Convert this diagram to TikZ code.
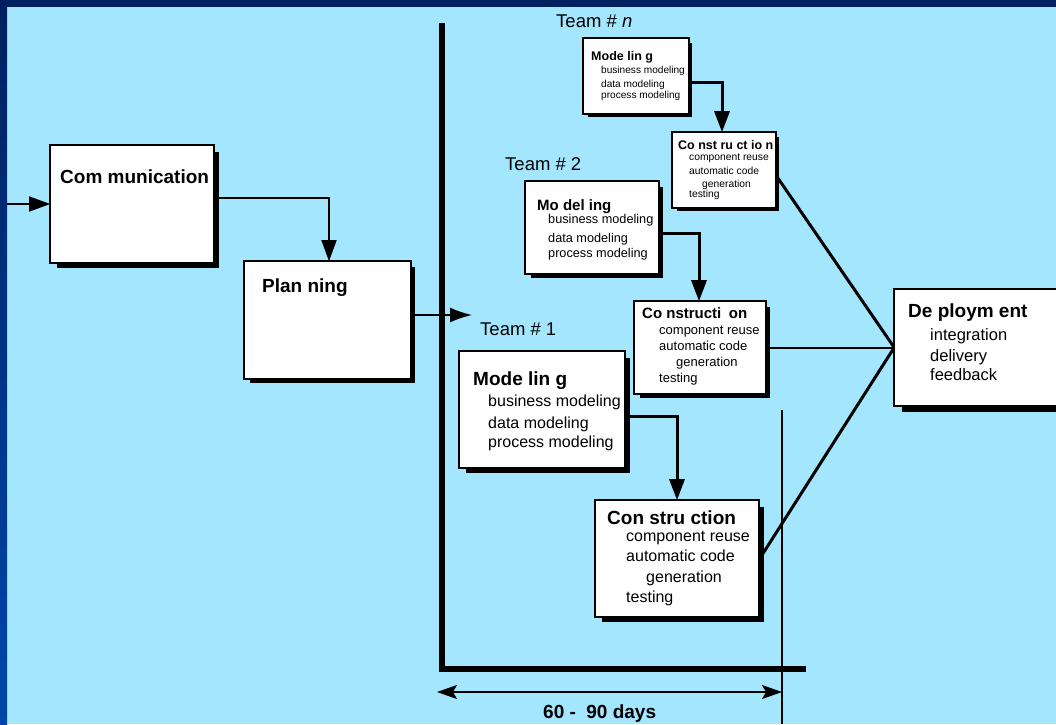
\documentclass[tikz,border=0pt]{standalone}
\usepackage{fontspec}
\setmainfont{Liberation Sans}
\usetikzlibrary{arrows.meta,shadows}
\definecolor{sky}{HTML}{A4E6FE}
\definecolor{navy}{HTML}{00205F}
\definecolor{royal}{HTML}{0047AB}
\tikzset{
  box/.style={draw=black, line width=1.6pt, fill=white, inner sep=0pt,
    general shadow={fill=black, shadow xshift=#1, shadow yshift=-#1}},
  ttl/.style={font=\bfseries\fontsize{#1pt}{#1pt}\selectfont, anchor=base west, inner sep=0pt},
  itm/.style={font=\fontsize{#1pt}{#1pt}\selectfont, anchor=base west, inner sep=0pt},
  team/.style={font=\fontsize{18.5pt}{18.5pt}\selectfont, anchor=base west, inner sep=0pt},
  flow/.style={line width=1.6pt, -{Triangle[length=21pt,width=15pt]}},
  feed/.style={line width=3pt, -{Triangle[length=21pt,width=15pt]}},
  link/.style={line width=#1, line cap=round},
  span/.style={line width=1.5pt, {Stealth[length=20pt,width=14pt,inset=4pt]}-{Stealth[length=20pt,width=14pt,inset=4pt]}},
}
\begin{document}
\begin{tikzpicture}[x=1pt, y=-1pt]
  % page background and frame strips
  \useasboundingbox (0,0) rectangle (1056,724);
  \fill[sky] (0,0) rectangle (1056,724);
  \clip (0,0) rectangle (1056,724);
  \shade[top color=navy, bottom color=royal] (0,0) rectangle (7,724);
  \fill[navy] (0,0) rectangle (1056,7);

  % time frame: team axis, window edge and duration
  \draw[line width=6pt, line join=miter] (442,23) -- (442,669) -- (806,669);
  \coordinate (winTop) at (782,410);
  \coordinate (winBot) at (782,724);
  \draw[line width=1.5pt] (winTop) -- (winBot);
  \coordinate (spanL) at (437,692);
  \coordinate (spanR) at (782,692);
  \draw[span] (spanL) -- (spanR);
  \node[ttl=19] (days) at (543,718) {60 -\hspace{0.55em}90 days};

  % boxes
  \node[box=6pt, minimum width=162pt, minimum height=116pt] (comm) at (132,204) {};
  \node[box=5pt, minimum width=165pt, minimum height=116pt] (plan) at (327.5,320) {};
  \node[box=4pt, minimum width=104pt, minimum height=74pt] (modN) at (636,76) {};
  \node[box=4pt, minimum width=102pt, minimum height=74pt] (conN) at (724,170) {};
  \node[box=5pt, minimum width=132pt, minimum height=91pt] (mod2) at (592,227.5) {};
  \node[box=4.5pt, minimum width=130pt, minimum height=91pt] (con2) at (700,347.5) {};
  \node[box=5.5pt, minimum width=164pt, minimum height=115pt] (mod1) at (542,409.5) {};
  \node[box=6pt, minimum width=162pt, minimum height=115pt] (con1) at (677,558.5) {};
  \node[box=7pt, minimum width=167pt, minimum height=115pt] (dep) at (978.5,347.5) {};

  % connectors
  \coordinate (feedIn) at (7,204);
  \draw[flow] (feedIn) -- (comm.west);
  \draw[flow] ([yshift=6pt]comm.east) -| ([xshift=1.5pt]plan.north);
  \coordinate (teamIn) at (472,315);
  \draw[line width=1.6pt, -{Latex[length=22pt,width=15pt]}] ([yshift=5pt]plan.east) -- (teamIn);
  \draw[feed] ([yshift=-6pt]modN.east) -| ([xshift=-2pt]conN.north);
  \draw[feed] ([yshift=-5.5pt]mod2.east) -| ([xshift=-1pt]con2.north);
  \draw[feed] ([yshift=-6.5pt]mod1.east) -| (con1.north);
  \draw[link=3pt] ([yshift=-5pt]conN.east) -- (dep.west);
  \draw[link=2pt] (con2.east) -- (dep.west);
  \draw[link=3pt] ([yshift=-1.5pt]con1.east) -- (dep.west);

  % re-draw boxes over the connector ends
  \foreach \b in {comm,plan,modN,conN,mod2,con2,mod1,con1,dep} {
    \draw[line width=1.6pt, fill=white] (\b.north west) rectangle (\b.south east);
  }

  % team labels
  \node[team] (teamN) at (556,27) {Team \# \textit{n}};
  \node[team] (team2) at (505,170) {Team \# 2};
  \node[team] (team1) at (480,335) {Team \# 1};

  % box texts
  \node[ttl=19] (commT) at (60,183.5) {Com munication};
  \node[ttl=19] (planT) at (262,292.5) {Plan ning};

  \node[ttl=12.5] (modNT) at (591,60) {Mode lin g};
  \node[itm=10.1] (modN1) at (601,73.5) {business modeling};
  \node[itm=10.1] (modN2) at (601,87) {data modeling};
  \node[itm=10.1] (modN3) at (601,98.5) {process modeling};

  \node[ttl=12.5] (conNT) at (678,149) {Co nst ru ct io n};
  \node[itm=10.3] (conN1) at (689,160) {component reuse};
  \node[itm=10.3] (conN2) at (689,174) {automatic code};
  \node[itm=10.3] (conN3) at (702,187) {generation};
  \node[itm=10.3] (conN4) at (689,197.5) {testing};

  \node[ttl=15] (mod2T) at (537,210) {Mo del ing};
  \node[itm=12.7] (mod21) at (548,223.5) {business modeling};
  \node[itm=12.7] (mod22) at (548,242) {data modeling};
  \node[itm=12.7] (mod23) at (548,257) {process modeling};

  \node[ttl=15] (con2T) at (642,318) {Co nstructi\hspace{0.5em}on};
  \node[itm=13] (con21) at (659,334) {component reuse};
  \node[itm=13] (con22) at (659,350) {automatic code};
  \node[itm=13] (con23) at (676,366) {generation};
  \node[itm=13] (con24) at (659,382) {testing};

  \node[ttl=19] (mod1T) at (473,385) {Mode lin g};
  \node[itm=16] (mod11) at (488,406) {business modeling};
  \node[itm=16] (mod12) at (488,428) {data modeling};
  \node[itm=16] (mod13) at (488,447) {process modeling};

  \node[ttl=19] (con1T) at (607,524) {Con stru ction};
  \node[itm=16] (con11) at (626,541) {component reuse};
  \node[itm=16] (con12) at (626,561) {automatic code};
  \node[itm=16] (con13) at (646,582) {generation};
  \node[itm=16] (con14) at (626,602) {testing};

  \node[ttl=19] (depT) at (908,317) {De ploym ent};
  \node[itm=16.5] (dep1) at (930,340) {integration};
  \node[itm=16.5] (dep2) at (930,361) {delivery};
  \node[itm=16.5] (dep3) at (930,380) {feedback};
\end{tikzpicture}
\end{document}
